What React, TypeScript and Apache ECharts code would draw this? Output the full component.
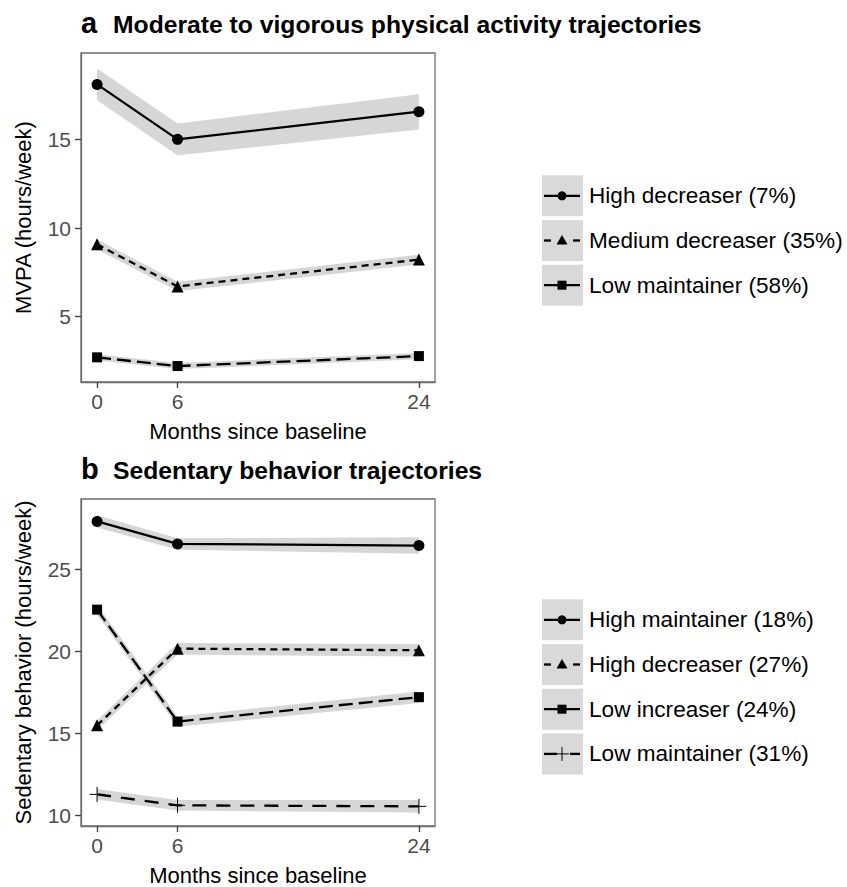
import React, { useEffect, useRef } from 'react';
import * as echarts from 'echarts';

// ---------- data ----------
const months = [0, 6, 24];
const xTicks = [0, 6, 24];
const mvpaTicks = [5, 10, 15];
const sedTicks = [10, 15, 20, 25];

// Panel a: MVPA (hours/week)
const mvpaNames = ['High decreaser (7%)', 'Medium decreaser (35%)', 'Low maintainer (58%)'];
const mvpaHighDec = [18.1, 15.0, 16.56];
const mvpaHighDecLo = [17.2, 14.1, 15.56];
const mvpaHighDecHi = [19.0, 15.9, 17.55];
const mvpaMedDec = [9.08, 6.71, 8.22];
const mvpaMedDecLo = [8.8, 6.45, 7.94];
const mvpaMedDecHi = [9.36, 6.97, 8.5];
const mvpaLowMain = [2.71, 2.22, 2.78];
const mvpaLowMainLo = [2.53, 2.05, 2.6];
const mvpaLowMainHi = [2.89, 2.39, 2.96];

// Panel b: Sedentary behavior (hours/week)
const sedNames = ['High maintainer (18%)', 'High decreaser (27%)', 'Low increaser (24%)', 'Low maintainer (31%)'];
const sedHighMain = [27.92, 26.55, 26.45];
const sedHighMainLo = [27.55, 26.2, 25.95];
const sedHighMainHi = [28.3, 26.9, 26.95];
const sedHighDec = [15.48, 20.16, 20.06];
const sedHighDecLo = [15.18, 19.8, 19.68];
const sedHighDecHi = [15.78, 20.5, 20.44];
const sedLowInc = [22.54, 15.71, 17.2];
const sedLowIncLo = [22.24, 15.4, 16.85];
const sedLowIncHi = [22.84, 16.02, 17.55];
const sedLowMain = [11.27, 10.6, 10.54];
const sedLowMainLo = [10.95, 10.28, 10.16];
const sedLowMainHi = [11.59, 10.92, 10.92];

// ---------- styles ----------
const RIBBON = '#d6d6d6';
const KEYBG = '#d9d9d9';
const FONT = 'Liberation Sans, Arial, sans-serif';
const LW = 2.3;
const BORDER = '#6e6e6e';
const TICK = '#444';
const SOLID: any = 'solid';
const SHORT = [7, 5];
const LONG = [14, 6];
const CROSS = 'path://M0,5 L10,5 M5,0 L5,10';

type Sty = { dash: any; symbol: string; size: number; cross?: boolean };
const mvpaStyles: Sty[] = [
  { dash: SOLID, symbol: 'circle', size: 11 },
  { dash: SHORT, symbol: 'triangle', size: 12 },
  { dash: LONG, symbol: 'rect', size: 10 },
];
const sedStyles: Sty[] = [
  { dash: SOLID, symbol: 'circle', size: 11 },
  { dash: SHORT, symbol: 'triangle', size: 12 },
  { dash: LONG, symbol: 'rect', size: 10 },
  { dash: [14, 10], symbol: CROSS, size: 15, cross: true },
];

function ribbon(axis: number, lo: number[], hi: number[]) {
  return {
    type: 'custom',
    xAxisIndex: axis,
    yAxisIndex: axis,
    silent: true,
    z: 1,
    data: months.map((m, i) => [m, lo[i], hi[i]]),
    encode: { x: 0, y: [1, 2] },
    renderItem: (params: any, api: any) => {
      if (params.dataIndex !== 0) return { type: 'group', children: [] };
      const top = months.map((m, i) => api.coord([m, hi[i]]));
      const bot = months.map((m, i) => api.coord([m, lo[i]])).reverse();
      return { type: 'polygon', shape: { points: [...top, ...bot] }, style: { fill: RIBBON } };
    },
  };
}

function line(axis: number, name: string, ys: number[], s: Sty) {
  return {
    type: 'line',
    name,
    xAxisIndex: axis,
    yAxisIndex: axis,
    z: 3,
    data: months.map((m, i) => [m, ys[i]]),
    symbol: s.symbol,
    symbolSize: s.size,
    showSymbol: true,
    lineStyle: { color: '#000', width: LW, type: s.dash },
    itemStyle: s.cross
      ? { color: 'rgba(0,0,0,0)', borderColor: '#000', borderWidth: 1 }
      : { color: '#000' },
  };
}

function xAxis(grid: number) {
  return {
    type: 'value',
    gridIndex: grid,
    min: -1.2,
    max: 25.2,
    name: 'Months since baseline',
    nameLocation: 'middle',
    nameGap: 38,
    nameTextStyle: { fontSize: 22, color: '#000', fontFamily: FONT },
    axisLine: { show: true, onZero: false, lineStyle: { color: BORDER, width: 1.3 } },
    splitLine: { show: false },
    axisTick: { show: true, inside: false, customValues: xTicks, length: 6, lineStyle: { color: TICK, width: 1.4 } },
    axisLabel: { customValues: xTicks, fontSize: 21, color: '#4d4d4d', margin: 9, fontFamily: FONT },
  };
}

function yAxis(grid: number, name: string, min: number, max: number, ticks: number[]) {
  return {
    type: 'value',
    gridIndex: grid,
    min,
    max,
    name,
    nameLocation: 'middle',
    nameGap: 47,
    nameTextStyle: { fontSize: 22, color: '#000', fontFamily: FONT },
    axisLine: { show: true, onZero: false, lineStyle: { color: BORDER, width: 1.3 } },
    splitLine: { show: false },
    axisTick: { show: true, inside: false, customValues: ticks, length: 6, lineStyle: { color: TICK, width: 1.4 } },
    axisLabel: { customValues: ticks, fontSize: 21, color: '#4d4d4d', margin: 10, fontFamily: FONT },
  };
}

function legendGraphics(top: number, names: string[], styles: Sty[]) {
  const els: any[] = [];
  names.forEach((n, i) => {
    const y0 = top + i * 44.7;
    const cy = y0 + 20.5;
    els.push({ type: 'rect', shape: { x: 542, y: y0, width: 41, height: 41 }, style: { fill: KEYBG } });
    const s = styles[i];
    if (s.dash === SHORT) {
      els.push({ type: 'line', shape: { x1: 544, y1: cy, x2: 551, y2: cy }, style: { stroke: '#000', lineWidth: LW } });
      els.push({ type: 'line', shape: { x1: 573, y1: cy, x2: 580, y2: cy }, style: { stroke: '#000', lineWidth: LW } });
    } else if (s.cross) {
      els.push({ type: 'line', shape: { x1: 544, y1: cy, x2: 557, y2: cy }, style: { stroke: '#000', lineWidth: LW } });
      els.push({ type: 'line', shape: { x1: 570, y1: cy, x2: 580, y2: cy }, style: { stroke: '#000', lineWidth: LW } });
    } else {
      els.push({ type: 'line', shape: { x1: 544, y1: cy, x2: 580, y2: cy }, style: { stroke: '#000', lineWidth: LW } });
    }
    const cx = 562;
    if (s.symbol === 'circle') {
      els.push({ type: 'circle', shape: { cx, cy, r: 4.5 }, style: { fill: '#000' } });
    } else if (s.symbol === 'triangle') {
      els.push({ type: 'polygon', shape: { points: [[cx, cy - 5.5], [cx + 5.5, cy + 4], [cx - 5.5, cy + 4]] }, style: { fill: '#000' } });
    } else if (s.symbol === 'rect') {
      els.push({ type: 'rect', shape: { x: cx - 4.5, y: cy - 4.5, width: 9, height: 9 }, style: { fill: '#000' } });
    } else if (s.cross) {
      els.push({ type: 'line', shape: { x1: cx - 7, y1: cy, x2: cx + 7, y2: cy }, style: { stroke: '#000', lineWidth: 1 } });
      els.push({ type: 'line', shape: { x1: cx, y1: cy - 7, x2: cx, y2: cy + 7 }, style: { stroke: '#000', lineWidth: 1 } });
    }
    els.push({
      type: 'text', x: 589, y: cy,
      style: { text: n, fontSize: 22.6, fontFamily: FONT, fill: '#000', verticalAlign: 'middle', align: 'left' },
    });
  });
  return els;
}

export default function App() {
  const ref = useRef<HTMLDivElement>(null);
  useEffect(() => {
    if (!ref.current) return;
    const chart = echarts.init(ref.current, undefined, { renderer: 'svg' });
    const titleEls = [
      { type: 'text', x: 81, y: 23, style: { text: 'a', fontSize: 29, fontWeight: 'bold', fontFamily: FONT, fill: '#000', verticalAlign: 'middle' } },
      { type: 'text', x: 113, y: 24.6, style: { text: 'Moderate to vigorous physical activity trajectories', fontSize: 24.7, fontWeight: 'bold', fontFamily: FONT, fill: '#000', verticalAlign: 'middle' } },
      { type: 'text', x: 81, y: 469, style: { text: 'b', fontSize: 29, fontWeight: 'bold', fontFamily: FONT, fill: '#000', verticalAlign: 'middle' } },
      { type: 'text', x: 113, y: 470.6, style: { text: 'Sedentary behavior trajectories', fontSize: 24.7, fontWeight: 'bold', fontFamily: FONT, fill: '#000', verticalAlign: 'middle' } },
    ];
    chart.setOption({
      animation: false,
      backgroundColor: '#fff',
      grid: [
        { left: 81, top: 53, width: 354, height: 329, show: true, borderColor: BORDER, borderWidth: 1.3, backgroundColor: 'transparent' },
        { left: 81, top: 499, width: 354, height: 330, show: true, borderColor: BORDER, borderWidth: 1.3, backgroundColor: 'transparent' },
      ],
      xAxis: [xAxis(0), xAxis(1)],
      yAxis: [
        yAxis(0, 'MVPA (hours/week)', 1.32, 19.87, mvpaTicks),
        yAxis(1, 'Sedentary behavior (hours/week)', 9.34, 29.29, sedTicks),
      ],
      graphic: [...titleEls, ...legendGraphics(175.3, mvpaNames, mvpaStyles), ...legendGraphics(599.3, sedNames, sedStyles)],
      series: [
        ribbon(0, mvpaHighDecLo, mvpaHighDecHi),
        ribbon(0, mvpaMedDecLo, mvpaMedDecHi),
        ribbon(0, mvpaLowMainLo, mvpaLowMainHi),
        ribbon(1, sedHighMainLo, sedHighMainHi),
        ribbon(1, sedHighDecLo, sedHighDecHi),
        ribbon(1, sedLowIncLo, sedLowIncHi),
        ribbon(1, sedLowMainLo, sedLowMainHi),
        line(0, mvpaNames[0], mvpaHighDec, mvpaStyles[0]),
        line(0, mvpaNames[1], mvpaMedDec, mvpaStyles[1]),
        line(0, mvpaNames[2], mvpaLowMain, mvpaStyles[2]),
        line(1, sedNames[0], sedHighMain, sedStyles[0]),
        line(1, sedNames[1], sedHighDec, sedStyles[1]),
        line(1, sedNames[2], sedLowInc, sedStyles[2]),
        line(1, sedNames[3], sedLowMain, sedStyles[3]),
      ],
    });
    return () => chart.dispose();
  }, []);
  return <div ref={ref} style={{ width: 847, height: 887, position: 'absolute', left: 0, top: 0 }} />;
}
